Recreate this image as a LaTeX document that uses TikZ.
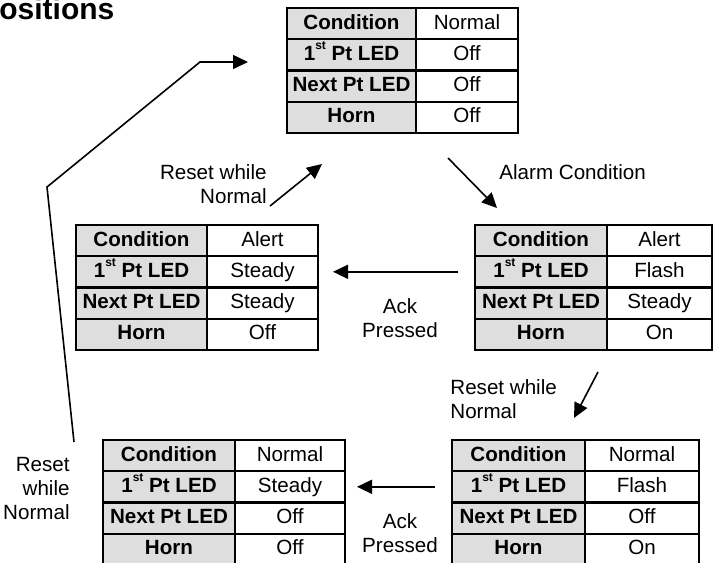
\documentclass[tikz,border=0pt]{standalone}
\usepackage{fontspec}
\setmainfont{Liberation Sans}
\usetikzlibrary{arrows.meta,positioning}
\definecolor{cellgray}{HTML}{DEDEDE}

\newcommand{\ordst}{\raisebox{0.5em}{\fontsize{6}{6}\selectfont st}}
\newcommand{\ledtable}[8]{%
  \node[keycell, minimum width=#3, anchor=north west] (#1-k1) at #2 {\textbf{Condition}};
  \node[keycell, minimum width=#3, below=0pt of #1-k1] (#1-k2) {\textbf{1\ordst\ Pt LED}};
  \node[keycell, minimum width=#3, below=0pt of #1-k2] (#1-k3) {\textbf{Next Pt LED}};
  \node[keycell, minimum width=#3, below=0pt of #1-k3] (#1-k4) {\textbf{Horn}};
  \node[valcell, minimum width=#4, right=0pt of #1-k1] (#1-v1) {#5};
  \node[valcell, minimum width=#4, right=0pt of #1-k2] (#1-v2) {#6};
  \node[valcell, minimum width=#4, right=0pt of #1-k3] (#1-v3) {#7};
  \node[valcell, minimum width=#4, right=0pt of #1-k4] (#1-v4) {#8};
}

\begin{document}
\begin{tikzpicture}[x=0.5pt, y=-0.5pt, font=\fontsize{10.3}{12}\selectfont,
  keycell/.style={rectangle, draw=black, fill=cellgray, line width=1.1pt,
    inner sep=0pt, outer sep=0pt, minimum height=15.6pt,
    text height=7.6pt, text depth=2.2pt},
  valcell/.style={keycell, fill=white},
  trarr/.style={-{Triangle[length=7.5pt,width=7pt]}, line width=0.8pt},
  trlbl/.style={inner sep=0pt}]
  \useasboundingbox (0,0) rectangle (714,563);
  \node[anchor=base west, inner sep=0pt, font=\fontsize{15}{17}\selectfont\bfseries] (title) at (-1,19) {ositions};
  \ledtable{nrm}{(287,8)}{64.5pt}{51pt}{Normal}{Off}{Off}{Off}
  \ledtable{alm}{(475,225)}{66pt}{52.5pt}{Alert}{Flash}{Steady}{On}
  \ledtable{ack}{(76,225)}{65.5pt}{55.5pt}{Alert}{Steady}{Steady}{Off}
  \ledtable{rtn}{(452,440)}{66.5pt}{57pt}{Normal}{Flash}{Off}{On}
  \ledtable{rst}{(103,440)}{66pt}{55pt}{Normal}{Steady}{Off}{Off}
  \node[trlbl, anchor=east, align=right] (lRst1) at (267,184) {Reset while\\Normal};
  \node[trlbl, anchor=west] (lAlarm) at (499,172) {Alarm Condition};
  \node[trlbl, align=center] (lAck1) at (400,318) {Ack\\Pressed};
  \node[trlbl, anchor=west, align=left] (lRst2) at (450,399) {Reset while\\Normal};
  \node[trlbl, align=center] (lAck2) at (400,533) {Ack\\Pressed};
  \node[trlbl, anchor=east, align=right] (lRst3) at (70,489) {Reset\\while\\Normal};
  \coordinate (r1s) at (270,206);
  \coordinate (r1e) at (322,164);
  \coordinate (a1s) at (448,158);
  \coordinate (a1e) at (497,208);
  \coordinate (r2s) at (598,372);
  \coordinate (r2e) at (574,418);
  \coordinate (loopS) at (74,442);
  \coordinate (loopA) at (47,187);
  \coordinate (loopB) at (200,62);
  \coordinate (loopE) at (248,62);
  \draw[trarr] (r1s) -- (r1e);
  \draw[trarr] (a1s) -- (a1e);
  \draw[trarr, shorten <=8.5pt, shorten >=7.5pt] (alm-k2.west) -- (ack-v2.east);
  \draw[trarr] (r2s) -- (r2e);
  \draw[trarr, shorten <=8.5pt, shorten >=6pt] (rtn-k2.west) -- (rst-v2.east);
  \draw[trarr] (loopS) -- (loopA) -- (loopB) -- (loopE);
\end{tikzpicture}
\end{document}
